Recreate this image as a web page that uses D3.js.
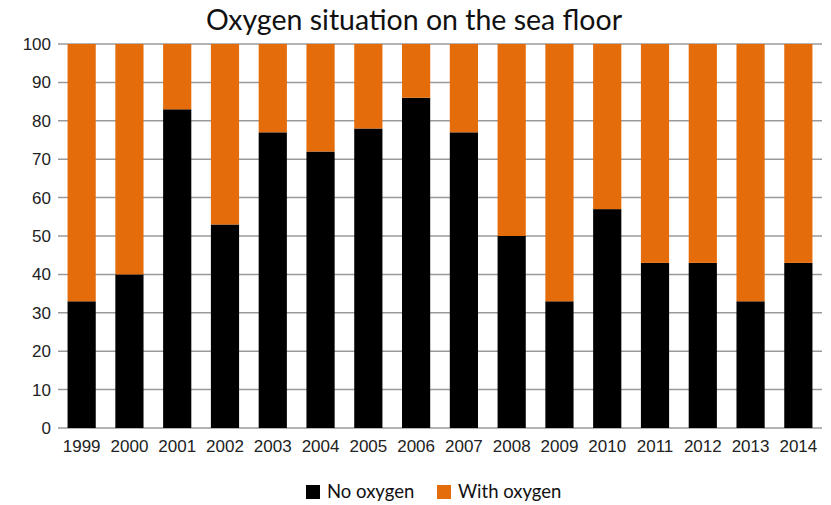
<!DOCTYPE html>
<html>
<head>
<meta charset="utf-8">
<script src="https://cdn.jsdelivr.net/npm/d3@7"></script>
<style>
  html, body { margin: 0; padding: 0; background: #fff; }
  svg { display: block; }
</style>
</head>
<body>
<svg id="chart" width="831" height="505"></svg>
<script>
// Share of sea-floor stations by year (percent)
const years = ["1999","2000","2001","2002","2003","2004","2005","2006","2007","2008","2009","2010","2011","2012","2013","2014"];
const noOxygen = [33, 40, 83, 53, 77, 72, 78, 86, 77, 50, 33, 57, 43, 43, 33, 43];
const withOxygen = noOxygen.map(v => 100 - v);
const yTicks = [0, 10, 20, 30, 40, 50, 60, 70, 80, 90, 100];
const seriesNames = ["No oxygen", "With oxygen"];
const seriesColors = ["#000000", "#E46C0A"];

const svg = d3.select("#chart");
const margin = { top: 44, right: 9, bottom: 77, left: 58 };
const W = 831, H = 505;

const x = d3.scaleBand()
  .domain(years)
  .range([margin.left, W - margin.right])
  .paddingInner(0.41)
  .paddingOuter(0.2);

const y = d3.scaleLinear()
  .domain([0, 100])
  .range([H - margin.bottom, margin.top]);

// Title
svg.append("text")
  .attr("x", 414)
  .attr("y", 30)
  .attr("text-anchor", "middle")
  .attr("font-family", "Lato, 'Open Sans', sans-serif")
  .attr("font-size", 28.5)
  .attr("fill", "#111")
  .text("Oxygen situation on the sea floor");

// Horizontal gridlines
svg.append("g")
  .selectAll("line")
  .data(yTicks)
  .join("line")
  .attr("x1", margin.left)
  .attr("x2", W - margin.right)
  .attr("y1", d => y(d))
  .attr("y2", d => y(d))
  .attr("stroke", "#9a9a9a")
  .attr("stroke-width", 1.5);

// Stacked bars
const rows = years.map((yr, i) => ({ year: yr, no: noOxygen[i], with: withOxygen[i] }));
const stack = d3.stack().keys(["no", "with"])(rows);

svg.append("g")
  .selectAll("g")
  .data(stack)
  .join("g")
  .attr("fill", (d, i) => seriesColors[i])
  .selectAll("rect")
  .data(d => d)
  .join("rect")
  .attr("x", d => x(d.data.year))
  .attr("width", x.bandwidth())
  .attr("y", d => y(d[1]))
  .attr("height", d => y(d[0]) - y(d[1]));

// Y axis labels
const yAxis = d3.axisLeft(y).tickValues(yTicks).tickSize(0).tickPadding(7);
const gy = svg.append("g")
  .attr("transform", `translate(${margin.left},0)`)
  .call(yAxis);
gy.select(".domain").remove();
gy.selectAll("text")
  .attr("font-family", "'Liberation Sans Narrow', 'Arial Narrow', Arial, sans-serif")
  .attr("font-size", 17)
  .attr("fill", "#222");

// X axis labels
const xAxis = d3.axisBottom(x).tickSize(0).tickPadding(12);
const gx = svg.append("g")
  .attr("transform", `translate(0,${H - margin.bottom})`)
  .call(xAxis);
gx.select(".domain").remove();
gx.selectAll("text")
  .attr("font-family", "'Liberation Sans Narrow', 'Arial Narrow', Arial, sans-serif")
  .attr("font-size", 17)
  .attr("fill", "#222");

// Legend
const legendItems = [
  { name: seriesNames[0], color: seriesColors[0], x: 306 },
  { name: seriesNames[1], color: seriesColors[1], x: 437 }
];
const lg = svg.append("g");
const li = lg.selectAll("g").data(legendItems).join("g")
  .attr("transform", d => `translate(${d.x},485)`);
li.append("rect")
  .attr("width", 14).attr("height", 14)
  .attr("fill", d => d.color);
li.append("text")
  .attr("x", 21)
  .attr("y", 13)
  .attr("font-family", "Lato, 'Open Sans', sans-serif")
  .attr("font-size", 18.5)
  .attr("fill", "#111")
  .text(d => d.name);
</script>
</body>
</html>
